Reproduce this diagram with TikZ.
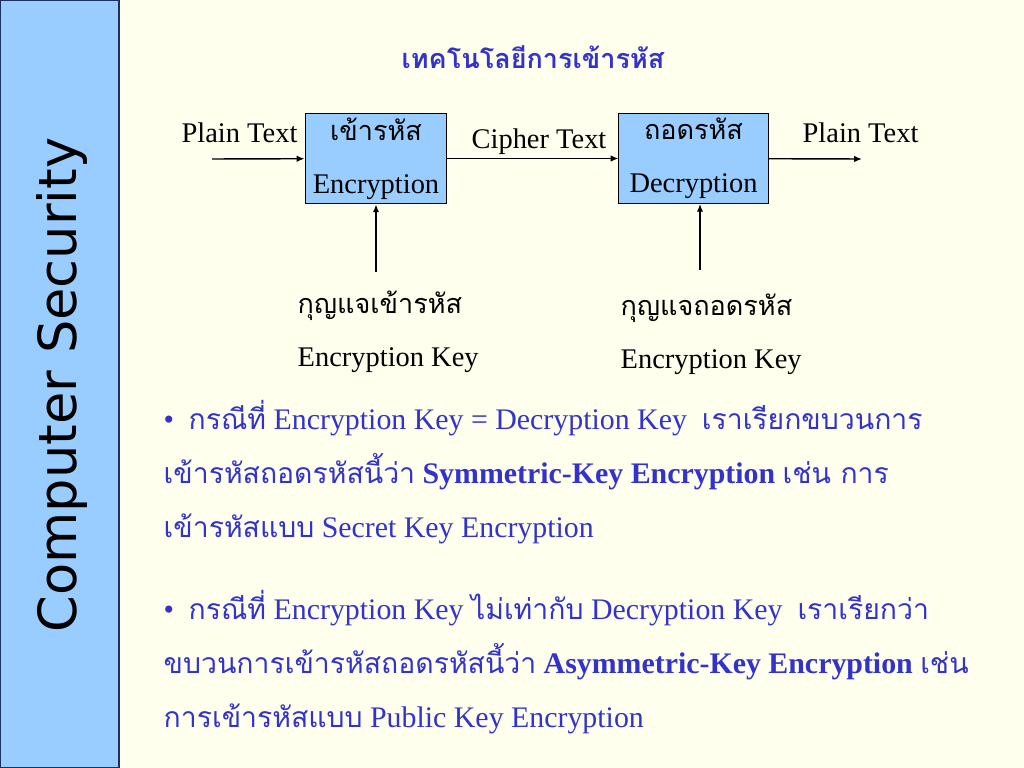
\documentclass[tikz,border=0pt]{standalone}
\usepackage{fontspec}
\setmainfont{Liberation Serif}
\newfontfamily\thaifont[Script=Thai,Scale=0.95]{Loma}
\newfontfamily\sidefont{DejaVu Sans}
\newcommand{\thai}[1]{{\thaifont #1}}
\usetikzlibrary{positioning, arrows.meta}

\definecolor{slidebg}{HTML}{FFFFEE}
\definecolor{barblue}{HTML}{99CCFF}
\definecolor{barline}{HTML}{1F2F5F}
\definecolor{textblue}{HTML}{3333CC}

\tikzset{
  cryptbox/.style={draw, rectangle, fill=barblue, line width=0.7pt, align=center,
    minimum height=59.8pt, font=\fontsize{20}{37}\selectfont},
  lbl/.style={inner sep=0pt, anchor=base, font=\fontsize{20}{24}\selectfont},
  keylbl/.style={inner sep=0pt, anchor=base west, font=\fontsize{20}{24}\selectfont},
  bodyline/.style={inner sep=0pt, anchor=base west, text=textblue, font=\fontsize{21}{25}\selectfont},
}

\begin{document}
\begin{tikzpicture}[x=0.703125pt, y=-0.703125pt, >={Latex[length=5.5pt,width=4.5pt]}, line width=1pt]
  \useasboundingbox (0,0) rectangle (1024,768);
  \fill [slidebg] (0,0) rectangle (1024,768);

  % side bar
  \draw [fill=barblue, draw=barline, line width=0.8pt] (0.4,0.4) rectangle (119,767.6);
  \node (side) [rotate=90, inner sep=0pt, font=\sidefont\fontsize{37}{40}\selectfont] at (62,385) {Computer Security};

  % title
  \node (title) [lbl, text=textblue, font=\thaifont\bfseries\fontsize{20}{24}\selectfont] at (533,69) {เทคโนโลยีการเข้ารหัส};

  % boxes
  \node (encbox) [cryptbox, minimum width=99.8pt] at (376,158.5) {\thai{เข้ารหัส}\\Encryption};
  \node (decbox) [cryptbox, minimum width=104.8pt] at (693.5,158.5) {\thai{ถอดรหัส}\\Decryption};

  \node (plainin) [lbl] at (239.5,143) {Plain Text};
  \node (cipher) [lbl] at (539,149) {Cipher Text};
  \node (plainout) [lbl] at (860.5,143) {Plain Text};

  \coordinate (srcin) at (212,159);
  \coordinate (dstout) at (862,159);
  \coordinate (enckey) at (376,272);
  \coordinate (deckey) at (700,270);

  \draw [->] (srcin) -- (encbox);
  \draw [->] (encbox) -- (decbox);
  \draw [->] (decbox) -- (dstout);
  \draw [->] (enckey) -- (encbox);
  \draw [->] (deckey) -- (deckey |- decbox.south);

  % key labels
  \node (enckeyth) [keylbl] at (297,314) {\thai{กุญแจเข้ารหัส}};
  \node (enckeyen) [keylbl] at (297,366) {Encryption Key};
  \node (deckeyth) [keylbl] at (620,316) {\thai{กุญแจถอดรหัส}};
  \node (deckeyen) [keylbl] at (620,368) {Encryption Key};

  % bullet 1
  \node (b1a) [bodyline] at (163,429) {\makebox[17.6pt][l]{•}\thai{กรณีที่} Encryption Key = Decryption Key\ \ \thai{เราเรียกขบวนการ}};
  \node (b1b) [bodyline] at (163,483) {\thai{เข้ารหัสถอดรหัสนี้ว่า} \textbf{Symmetric-Key Encryption} \thai{เช่น การ}};
  \node (b1c) [bodyline] at (163,537) {\thai{เข้ารหัสแบบ} Secret Key Encryption};

  % bullet 2
  \node (b2a) [bodyline] at (163,619) {\makebox[17.6pt][l]{•}\thai{กรณีที่} Encryption Key \thai{ไม่เท่ากับ} Decryption Key\ \ \thai{เราเรียกว่า}};
  \node (b2b) [bodyline] at (163,673) {\thai{ขบวนการเข้ารหัสถอดรหัสนี้ว่า} \textbf{Asymmetric-Key Encryption} \thai{เช่น}};
  \node (b2c) [bodyline] at (163,727) {\thai{การเข้ารหัสแบบ} Public Key Encryption};
\end{tikzpicture}
\end{document}
